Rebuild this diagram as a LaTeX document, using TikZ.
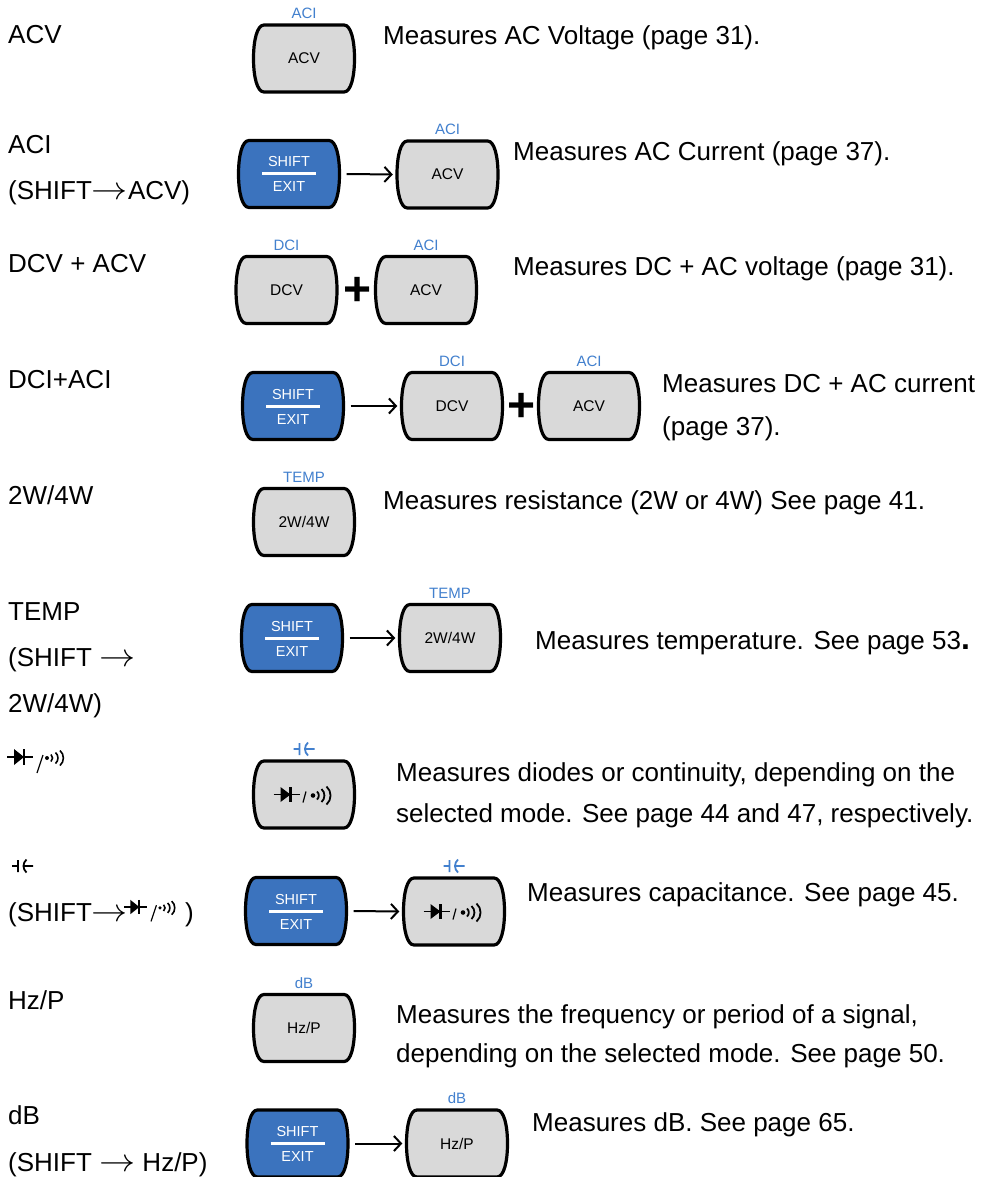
\documentclass[tikz,border=0pt]{standalone}
\usepackage{fontspec}
\usepackage{graphicx}
\setmainfont{Liberation Sans}
\usetikzlibrary{arrows.meta,calc}
\definecolor{keygray}{RGB}{217,217,217}
\definecolor{shiftblue}{RGB}{59,115,190}
\definecolor{labblue}{RGB}{66,128,206}
\newcommand\rarr{\scalebox{1.45}[1.3]{\ensuremath{\rightarrow}}}
\tikzset{
 keyborder/.style={line width=3.2pt, draw=black, line join=round},
 keynode/.style={minimum width=101pt, minimum height=67pt, inner sep=0pt, font=\fontsize{15.5}{16}\selectfont},
 blulab/.style={anchor=base, inner sep=0pt, text=labblue, font=\fontsize{15}{16}\selectfont},
 shifttxt/.style={anchor=base, inner sep=0pt, text=white, font=\fontsize{14.5}{16}\selectfont},
 txt/.style={anchor=base west, inner sep=0pt, font=\fontsize{26}{30}\selectfont},
 conn/.style={line width=2pt, -{Straight Barb[length=7pt,width=15pt,line width=2pt]}},
 plussign/.style={inner sep=0pt, font=\fontsize{48}{48}\bfseries\selectfont},
 sym/.style={line width=1.8pt, line cap=butt},
 capsym/.pic={\draw[sym] (-10.5,0)--(-4.5,0) (-4.5,-6)--(-4.5,6) (4,-6.5) .. controls (0,-3) and (0,3) .. (4,6.5) (1,0)--(10.5,0);},
 dckey/.pic={
   \draw[sym] (-30.5,0)--(-4.5,0);
   \fill (-23.5,-7.5)--(-13.5,0)--(-23.5,7.5)--cycle;
   \draw[line width=2.2pt] (-13.5,-7.5)--(-13.5,7.5);
   \draw[line width=1.2pt] (-1,8)--(2,-3);
   \fill (9,1) circle (2.3pt);
   \draw[line width=1.8pt] (13,-3) .. controls (15.4,-1) and (15.4,3) .. (13,5)
     (17.5,-5.5) .. controls (21.4,-2.25) and (21.4,4.25) .. (17.5,7.5)
     (22.5,-8) .. controls (27.9,-3.5) and (27.9,5.5) .. (22.5,10);
 },
 dclabel/.pic={
   \draw[sym] (0,0)--(26,0);
   \fill (7,-8)--(17,0)--(7,8)--cycle;
   \draw[line width=2.2pt] (17,-8)--(17,8);
   \draw[line width=1.2pt] (30,16)--(36,-2);
   \fill (40,1) circle (2pt);
   \draw[line width=1.6pt] (44,-2.5) .. controls (46.1,-0.75) and (46.1,2.75) .. (44,4.5)
     (48.5,-4.5) .. controls (51.8,-1.75) and (51.8,3.75) .. (48.5,6.5)
     (53,-6.5) .. controls (57.5,-2.75) and (57.5,4.75) .. (53,8.5);
 },
}
\newcommand\keyoutline[2]{%
 \draw[keyborder, fill=#2, shift={#1}] (-40,-33.5) -- (40,-33.5) .. controls (47,-33.5) and (50.5,-18) .. (50.5,0) .. controls (50.5,18) and (47,33.5) .. (40,33.5) -- (-40,33.5) .. controls (-47,33.5) and (-50.5,18) .. (-50.5,0) .. controls (-50.5,-18) and (-47,-33.5) .. (-40,-33.5) -- cycle;}
\newcommand\graykey[3]{%
 \keyoutline{#2}{keygray}
 \node[keynode] (#1) at #2 {#3};}
\newcommand\keylab[2]{\node[blulab] (#1l) at ([yshift=40pt]#1.center) {#2};}
\newcommand\shiftkey[2]{%
 \keyoutline{#2}{shiftblue}
 \node[keynode] (#1) at #2 {};
 \node[shifttxt] (#1t) at ([yshift=7pt]#1.center) {SHIFT};
 \node[shifttxt] (#1b) at ([yshift=-18pt]#1.center) {EXIT};
 \draw[white, line width=3pt] ([xshift=-27pt]#1.center) -- ([xshift=27pt]#1.center);}
\begin{document}
\begin{tikzpicture}[x=1pt,y=-1pt]
\fill[white] (0,0) rectangle (998,1177);
\useasboundingbox (0,0) rectangle (998,1177);
% Row 1
\node[txt] (l1) at (8,44) {ACV};
\graykey{g1}{(304,58.5)}{ACV}\keylab{g1}{ACI}
\node[txt] (r1) at (383,45) {Measures AC Voltage (page 31).};
% Row 2
\node[txt] (l2a) at (8,154) {ACI};
\node[txt] (l2b) at (8,200) {(SHIFT\rarr ACV)};
\shiftkey{s2}{(289,174)}
\graykey{g2}{(447.5,174.5)}{ACV}\keylab{g2}{ACI}
\draw[conn] ([xshift=7pt]s2.east) -- ([xshift=-4pt]g2.west);
\node[txt] (r2) at (513,161) {Measures AC Current (page 37).};
% Row 3
\node[txt] (l3) at (8,272) {DCV + ACV};
\graykey{g3a}{(286.5,290)}{DCV}\keylab{g3a}{DCI}
\node[plussign] (p3) at (358,291) {+};
\graykey{g3b}{(426,290)}{ACV}\keylab{g3b}{ACI}
\node[txt] (r3) at (513,275) {Measures DC + AC voltage (page 31).};
% Row 4
\node[txt] (l4) at (8,388) {DCI+ACI};
\shiftkey{s4}{(293,406)}
\graykey{g4a}{(452,406)}{DCV}\keylab{g4a}{DCI}
\node[plussign] (p4) at (522,407) {+};
\graykey{g4b}{(589,406)}{ACV}\keylab{g4b}{ACI}
\draw[conn] ([xshift=7pt]s4.east) -- ([xshift=-4pt]g4a.west);
\node[txt] (r4a) at (662,392) {Measures DC + AC current};
\node[txt] (r4b) at (662,435) {(page 37).};
% Row 5
\node[txt] (l5) at (8,504) {2W/4W};
\graykey{g5}{(304,522)}{2W/4W}\keylab{g5}{TEMP}
\node[txt] (r5) at (383,509) {Measures resistance (2W or 4W) See page 41.};
% Row 6
\node[txt] (l6a) at (8,620) {TEMP};
\node[txt] (l6b) at (8,666) {(SHIFT \rarr};
\node[txt] (l6c) at (8,712) {2W/4W)};
\shiftkey{s6}{(292,638)}
\graykey{g6}{(450,638)}{2W/4W}\keylab{g6}{TEMP}
\draw[conn] ([xshift=7pt]s6.east) -- ([xshift=-4pt]g6.west);
\node[txt] (r6) at (535,649) {Measures temperature. See page 53{\bfseries\fontsize{32}{32}\selectfont .}};
% Row 7
\pic at (7,757) {dclabel};
\graykey{g7}{(304,794.5)}{}
\pic at (g7.center) {dckey};
\pic[labblue] at ([yshift=45.5pt]g7.center) {capsym};
\node[txt] (r7a) at (396,781) {Measures diodes or continuity, depending on the};
\node[txt] (r7b) at (396,822) {selected mode. See page 44 and 47, respectively.};
% Row 8
\pic at (22.5,866) {capsym};
\node[txt] (l8) at (8,921) {(SHIFT\rarr};
\pic[scale=0.9] at (124,907) {dclabel};
\node[txt] (l8c) at (185,921) {)};
\shiftkey{s8}{(296,911)}
\graykey{g8}{(454,911.5)}{}
\pic at (g8.center) {dckey};
\pic[labblue] at ([yshift=45.5pt]g8.center) {capsym};
\draw[conn] ([xshift=7pt]s8.east) -- ([xshift=-4pt]g8.west);
\node[txt] (r8) at (527,901) {Measures capacitance. See page 45.};
% Row 9
\node[txt] (l9) at (8,1009) {Hz/P};
\graykey{g9}{(304,1028)}{Hz/P}\keylab{g9}{dB}
\node[txt] (r9a) at (396,1023) {Measures the frequency or period of a signal,};
\node[txt] (r9b) at (396,1062) {depending on the selected mode. See page 50.};
% Row 10
\node[txt] (l10a) at (8,1124) {dB};
\node[txt] (l10b) at (8,1171) {(SHIFT \rarr{} Hz/P)};
\shiftkey{s10}{(297.5,1143.5)}
\graykey{g10}{(457,1143.5)}{Hz/P}\keylab{g10}{dB}
\draw[conn] ([xshift=7pt]s10.east) -- ([xshift=-4pt]g10.west);
\node[txt] (r10) at (532,1131) {Measures dB. See page 65.};
\end{tikzpicture}
\end{document}
